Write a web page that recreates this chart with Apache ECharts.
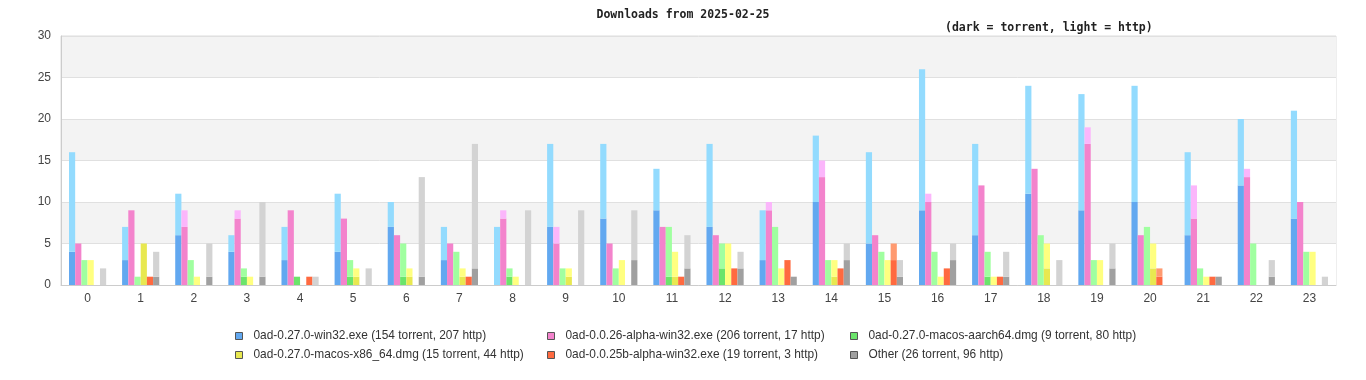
<!DOCTYPE html>
<html>
<head>
<meta charset="utf-8">
<script src="https://cdn.jsdelivr.net/npm/echarts@6/dist/echarts.min.js"></script>
<style>
html,body{margin:0;padding:0;background:#fff;}
#chart{width:1366px;height:380px;}
</style>
</head>
<body>
<div id="chart"></div>
<script>
const hours = ['0','1','2','3','4','5','6','7','8','9','10','11','12','13','14','15','16','17','18','19','20','21','22','23'];
const yTicks = [0, 5, 10, 15, 20, 25, 30];
const seriesNames = [
  '0ad-0.27.0-win32.exe (154 torrent, 207 http)',
  '0ad-0.0.26-alpha-win32.exe (206 torrent, 17 http)',
  '0ad-0.27.0-macos-aarch64.dmg (9 torrent, 80 http)',
  '0ad-0.27.0-macos-x86_64.dmg (15 torrent, 44 http)',
  '0ad-0.0.25b-alpha-win32.exe (19 torrent, 3 http)',
  'Other (26 torrent, 96 http)'
];
// torrent (dark) / http (light) per hour
const win32Torrent   = [4,3,6,4,3,4,7,3,0,7,8,9,7,3,10,5,9,6,11,9,10,6,12,8];
const win32Http      = [12,4,5,2,4,7,3,4,7,10,9,5,10,6,8,11,17,11,13,14,14,10,8,13];
const alpha26Torrent = [5,9,7,8,9,8,6,5,8,5,5,7,6,9,13,6,10,12,14,17,6,8,13,10];
const alpha26Http    = [0,0,2,1,0,0,0,0,1,2,0,0,0,1,2,0,1,0,0,2,0,4,1,0];
const aarchTorrent   = [0,0,0,1,1,1,1,0,1,0,0,1,2,0,0,0,0,1,0,0,0,0,0,0];
const aarchHttp      = [3,1,3,1,0,2,4,4,1,2,2,6,3,7,3,4,4,3,6,3,7,2,5,4];
const x86Torrent     = [0,5,0,0,0,1,1,1,0,1,0,1,0,0,1,0,0,0,2,0,2,0,0,0];
const x86Http        = [3,0,1,1,0,1,1,1,1,1,3,3,5,2,2,3,1,1,3,3,3,1,0,4];
const alpha25Torrent = [0,1,0,0,1,0,0,1,0,0,0,1,2,3,2,3,2,1,0,0,1,1,0,0];
const alpha25Http    = [0,0,0,0,0,0,0,0,0,0,0,0,0,0,0,2,0,0,0,0,1,0,0,0];
const otherTorrent   = [0,1,1,1,0,0,1,2,0,0,3,2,2,1,3,1,3,1,0,2,0,1,1,0];
const otherHttp      = [2,3,4,9,1,2,12,15,9,9,6,4,2,0,2,2,2,3,3,3,0,0,2,1];

const torrentData = [win32Torrent, alpha26Torrent, aarchTorrent, x86Torrent, alpha25Torrent, otherTorrent];
const httpData = [win32Http, alpha26Http, aarchHttp, x86Http, alpha25Http, otherHttp];
const darkColors  = ['#62a8f0','#f383cc','#6be46b','#e8e850','#ff6a40','#a0a0a0'];
const lightColors = ['#93dbfe','#fbb6fb','#a0ffa0','#ffff80','#ff9a70','#d3d3d3'];

const series = [];
for (let i = 0; i < 6; i++) {
  series.push({
    name: seriesNames[i], type: 'bar', stack: 's' + i,
    data: torrentData[i], itemStyle: {color: darkColors[i]},
    barGap: '0%', barCategoryGap: '30%', animation: false
  });
  series.push({
    name: seriesNames[i] + ' http', type: 'bar', stack: 's' + i,
    data: httpData[i], itemStyle: {color: lightColors[i]},
    barGap: '0%', barCategoryGap: '30%', animation: false
  });
}

const legendLefts = [235, 547, 850, 235, 547, 850];
const legendTops = [330, 330, 330, 349, 349, 349];
const legends = seriesNames.map((n, i) => ({
  data: [{name: n, icon: 'rect'}], left: legendLefts[i], top: legendTops[i], padding: 0,
  itemWidth: 7, itemHeight: 7, selectedMode: false,
  itemStyle: {borderColor: '#555', borderWidth: 1},
  textStyle: {fontFamily: 'Liberation Sans', fontSize: 11.9, color: '#333', padding: [0,0,0,6]}
}));

const chart = echarts.init(document.getElementById('chart'), null, {renderer: 'canvas'});
chart.setOption({
  animation: false,
  backgroundColor: '#ffffff',
  title: [
    {text: 'Downloads from 2025-02-25', left: 'center', top: 4,
     textStyle: {fontFamily: 'DejaVu Sans Mono', fontWeight: 'bold', fontSize: 11.5, color: '#222'}},
    {text: '(dark = torrent, light = http)', left: 940, top: 17,
     textStyle: {fontFamily: 'DejaVu Sans Mono', fontWeight: 'bold', fontSize: 11.5, color: '#222'}}
  ],
  legend: legends,
  grid: {left: 61, right: 30, top: 36, bottom: 95, show: true, borderColor: '#dddddd', borderWidth: 1},
  xAxis: {
    type: 'category', data: hours,
    axisTick: {show: false},
    axisLine: {lineStyle: {color: '#cccccc'}},
    axisLabel: {color: '#444', fontFamily: 'Liberation Sans', fontSize: 12, margin: 8}
  },
  yAxis: {
    type: 'value', min: yTicks[0], max: yTicks[yTicks.length - 1], interval: 5,
    axisLine: {show: true, lineStyle: {color: '#cccccc'}},
    axisTick: {show: false},
    axisLabel: {color: '#444', fontFamily: 'Liberation Sans', fontSize: 12, margin: 10},
    splitLine: {lineStyle: {color: '#e0e0e0'}},
    splitArea: {show: true, areaStyle: {color: ['#ffffff', '#f3f3f3']}}
  },
  series: series
});
</script>
</body>
</html>
